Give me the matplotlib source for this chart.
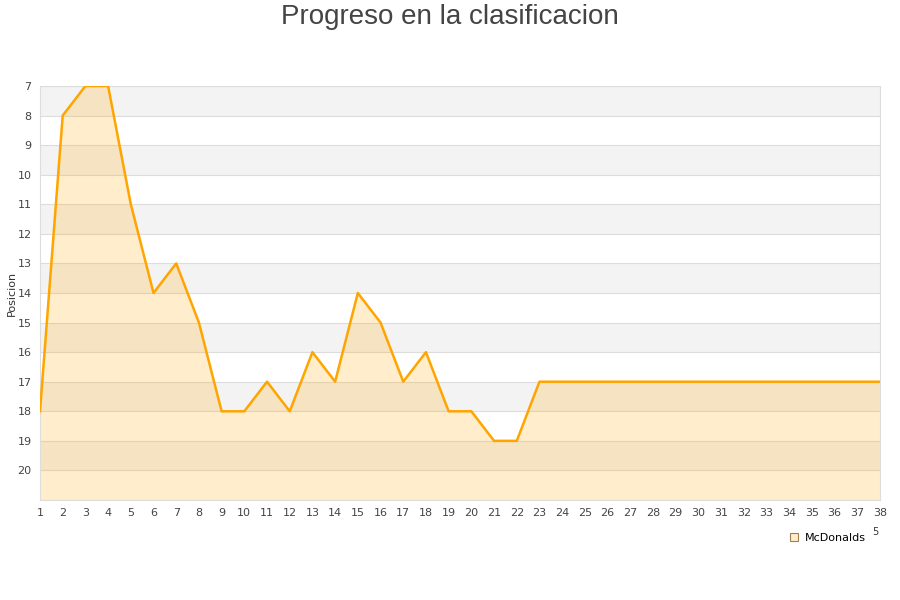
import matplotlib
matplotlib.use("Agg")
import matplotlib.pyplot as plt
from matplotlib.lines import Line2D

rounds = list(range(1, 39))
positions = [18, 8, 7, 7, 11, 14, 13, 15, 18, 18, 17, 18, 16, 17, 14, 15, 17, 16, 18, 18,
             19, 19, 17, 17, 17, 17, 17, 17, 17, 17, 17, 17, 17, 17, 17, 17, 17, 17]
team = "McDonalds"
title = "Progreso en la clasificacion"
ylabel = "Posicion"
y_ticks = list(range(7, 21))

fig = plt.figure(figsize=(9, 6), dpi=100)
ax = fig.add_axes([40/900, 100/600, 840/900, 414/600])
ax.set_xlim(1, 38)
ax.set_ylim(21, 7)

# alternating bands
for y in range(7, 21, 2):
    ax.axhspan(y, y + 1, color="#f3f3f3", zorder=0, lw=0)
for y in range(7, 22):
    ax.axhline(y, color="#dddddd", lw=0.8, zorder=1)

ax.fill_between(rounds, positions, 21, color="orange", alpha=0.2, lw=0, zorder=2)
ax.plot(rounds, positions, color="orange", lw=1.8, zorder=3)

ax.set_yticks(y_ticks)
ax.set_xticks(rounds)
ax.tick_params(axis="both", length=0, labelsize=8, colors="#444444", pad=6)
for s in ax.spines.values():
    s.set_color("#dddddd")
    s.set_linewidth(0.8)

fig.text(0.5, 1 - 17/600, title, ha="center", va="center", fontsize=20,
         color="#444444", family=["Liberation Sans", "DejaVu Sans"])
fig.text(12/900, 1 - 293/600, ylabel, rotation=90, ha="center", va="center", fontsize=8, color="#333333")
fig.text(875/900, 1 - 532/600, "5", ha="center", va="center", fontsize=7, color="#333333")

handle = Line2D([], [], marker="s", linestyle="none", markersize=6,
                markerfacecolor="#ffeecc", markeredgecolor="#a08050", markeredgewidth=0.8)
fig.legend([handle], [team], loc="center left", bbox_to_anchor=(783/900, 1 - 538/600),
           frameon=False, fontsize=8, handletextpad=0.5, borderpad=0, handlelength=1)

fig.savefig("out.png", dpi=100)
